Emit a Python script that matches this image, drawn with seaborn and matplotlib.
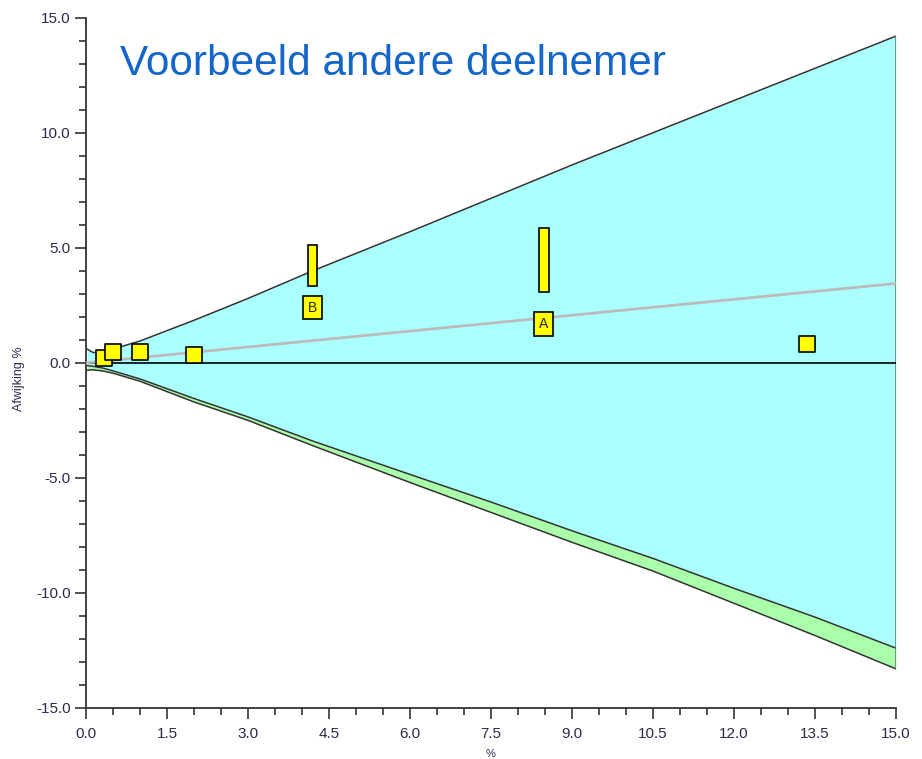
import numpy as np
import pandas as pd
import matplotlib
matplotlib.use('Agg')
import matplotlib.pyplot as plt
import seaborn as sns

band_x = [0.02, 0.13, 0.3, 0.5, 1.0, 2.0, 3.0, 4.2, 6.0, 7.5, 9.0, 10.5, 12.0, 13.5, 15.0]
upper = [0.6, 0.45, 0.45, 0.6, 0.95, 1.85, 2.8, 4.0, 5.7, 7.15, 8.6, 10.0, 11.4, 12.8, 14.2]
lower_cyan = [-0.12, -0.15, -0.22, -0.35, -0.7, -1.55, -2.35, -3.4, -4.85, -6.05, -7.3, -8.5, -9.8, -11.05, -12.4]
lower_green = [-0.32, -0.3, -0.35, -0.45, -0.8, -1.7, -2.5, -3.6, -5.2, -6.5, -7.8, -9.05, -10.45, -11.85, -13.3]

# regressielijn
trend_x = [0.0, 15.0]
trend_y = [0.0, 3.45]

# meetpunten zonder label
pts_x = [0.33, 0.5, 1.0, 2.0, 13.35]
pts_y = [0.22, 0.45, 0.45, 0.32, 0.83]

# gelabelde punten
lab_names = ['B', 'A']
lab_x = [4.2, 8.48]
lab_y = [2.4, 1.7]
bar_low = [3.35, 3.1]
bar_high = [5.1, 5.85]

sns.set_style('white')
plt.rcParams['font.family'] = ['Liberation Sans', 'DejaVu Sans']

fig = plt.figure(figsize=(9.22, 7.59), dpi=100)
ax = fig.add_axes([0.0933, 0.0672, 0.8785, 0.9095])

ax.fill_between(band_x, lower_green, lower_cyan, color='#AAFFAA', lw=0)
ax.fill_between(band_x, lower_cyan, upper, color='#AAFFFF', lw=0)
for yy in (upper, lower_cyan, lower_green):
    sns.lineplot(x=band_x, y=yy, ax=ax, color='#333333', lw=1.1, estimator=None, sort=False)
ax.plot([band_x[-1], band_x[-1]], [lower_green[-1], upper[-1]], color='#777777', lw=1.2)

ax.axhline(0, color='black', lw=1.2, zorder=3)
sns.lineplot(x=trend_x, y=trend_y, ax=ax, color='#BBBBBB', lw=2, estimator=None, zorder=3)

heights = np.array(bar_high) - np.array(bar_low)
ax.bar(lab_x, heights, bottom=bar_low, width=0.17, color='#FFFF00',
       edgecolor='black', lw=1.2, zorder=4)

pts = pd.DataFrame({'x': pts_x, 'y': pts_y})
sns.scatterplot(data=pts, x='x', y='y', ax=ax, marker='s', s=120,
                color='#FFFF00', edgecolor='black', linewidth=1.2, zorder=5)

for name, xx, yy in zip(lab_names, lab_x, lab_y):
    ax.text(xx, yy, name, ha='center', va='center', fontsize=10, zorder=6,
            bbox=dict(boxstyle='square,pad=0.35', fc='#FFFF00', ec='black', lw=1.2))

ax.set_xlim(0, 15)
ax.set_ylim(-15, 15)
ax.set_xticks(np.arange(0, 15.01, 1.5))
ax.set_xticks(np.arange(0, 15.01, 0.5), minor=True)
ax.set_yticks(np.arange(-15, 15.01, 5))
ax.set_yticks(np.arange(-15, 15.01, 1), minor=True)
ax.xaxis.set_major_formatter(plt.FormatStrFormatter('%.1f'))
ax.yaxis.set_major_formatter(plt.FormatStrFormatter('%.1f'))

for side in ('top', 'right'):
    ax.spines[side].set_visible(False)
for side in ('left', 'bottom'):
    ax.spines[side].set_color('#333333')
    ax.spines[side].set_linewidth(1.3)

ax.tick_params(which='major', length=8, width=1.2, color='#333333',
               labelsize=11, labelcolor='#2a2a4a', bottom=True, left=True, pad=3)
ax.tick_params(axis='x', which='major', pad=6)
ax.tick_params(which='minor', length=5, width=1.2, color='#333333', bottom=True, left=True)

ax.set_xlabel('%', fontsize=8, color='#2a2a4a')
ax.xaxis.set_label_coords(0.5, -0.06)
ax.set_ylabel('Afwijking %', fontsize=9, color='#2a2a4a')
ax.yaxis.set_label_coords(-0.075, 0.477)

ax.text(0.042, 0.962, 'Voorbeeld andere deelnemer', transform=ax.transAxes,
        fontsize=30.5, color='#1466C8', va='top', ha='left')

fig.savefig('out.png', dpi=100)
